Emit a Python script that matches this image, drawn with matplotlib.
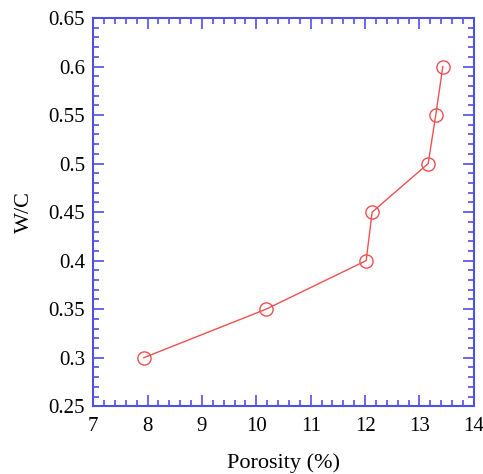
import matplotlib
matplotlib.use('Agg')
from matplotlib import pyplot as plt
from matplotlib.ticker import MultipleLocator

plt.rcParams['font.family'] = 'Liberation Serif'

porosity = [7.93, 10.18, 12.02, 12.13, 13.16, 13.3, 13.43]
wc = [0.30, 0.35, 0.40, 0.45, 0.50, 0.55, 0.60]
yticks = [0.25, 0.3, 0.35, 0.4, 0.45, 0.5, 0.55, 0.6, 0.65]
ylabels = ['0.25', '0.3', '0.35', '0.4', '0.45', '0.5', '0.55', '0.6', '0.65']

fig = plt.figure(figsize=(4.83, 4.74), dpi=100)
ax = fig.add_axes([0.193, 0.143, 0.788, 0.819])

ax.plot(porosity, wc, color='#f05050', linewidth=1, marker='o', markersize=9.5,
        markerfacecolor='none', markeredgecolor='#f05050', markeredgewidth=1)

ax.set_xlim(7, 14)
ax.set_ylim(0.25, 0.65)
ax.xaxis.set_major_locator(MultipleLocator(1))
ax.xaxis.set_minor_locator(MultipleLocator(0.2))
ax.yaxis.set_minor_locator(MultipleLocator(0.01))
ax.set_yticks(yticks)
ax.set_yticklabels(ylabels)

blue = '#5050e8'
for s in ax.spines.values():
    s.set_color(blue)
    s.set_linewidth(1.5)
ax.tick_params(which='both', direction='in', top=True, right=True, color=blue,
               labelsize=15, width=1.2)
ax.tick_params(which='major', length=8)
ax.tick_params(which='minor', length=4)
ax.tick_params(axis='x', pad=8)
ax.tick_params(axis='y', pad=6)

ax.set_xlabel('Porosity (%)', fontsize=16, labelpad=12)
ax.set_ylabel('W/C', fontsize=16, labelpad=10)

fig.savefig('out.png', dpi=100)
